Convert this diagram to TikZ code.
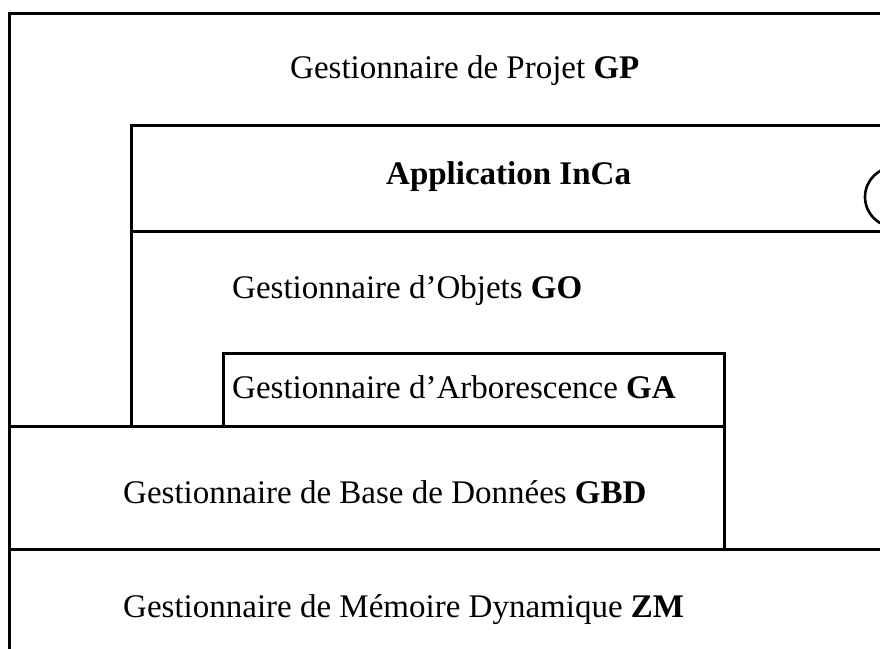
\documentclass[tikz,border=0pt]{standalone}
\usepackage{fontspec}
\setmainfont{Liberation Serif}
\begin{document}
\begin{tikzpicture}[x=1pt,y=-1pt,
  frame/.style={draw=black,line width=3pt,line cap=rect},
  label/.style={anchor=base west,inner sep=0pt,font=\fontsize{33}{39}\selectfont}]
\useasboundingbox (0,0) rectangle (880,648);
% outer GP frame
\draw[frame] (880,13) -- (9,13) -- (9,648);
% Application InCa band and GO frame
\draw[frame] (880,125) -- (131,125) -- (131,426);
\draw[frame] (131,231) -- (880,231);
% GA box
\draw[frame] (223,426) -- (223,353) -- (724,353) -- (724,549);
% GBD top and bottom
\draw[frame] (9,426) -- (724,426);
\draw[frame] (9,549) -- (880,549);
% partial circle at right edge
\begin{scope}
\clip (0,0) rectangle (880,648);
\draw[line width=2.6pt] (895,197) circle[radius=30];
\end{scope}
% labels
\node[label] (gp)  at (290,78)  {Gestionnaire de Projet \textbf{GP}};
\node[label] (inca) at (386,184) {\textbf{Application InCa}};
\node[label] (go)  at (232,298) {Gestionnaire d’Objets \textbf{GO}};
\node[label] (ga)  at (232,398) {Gestionnaire d’Arborescence \textbf{GA}};
\node[label] (gbd) at (123,503) {Gestionnaire de Base de Données \textbf{GBD}};
\node[label] (zm)  at (123,617) {Gestionnaire de Mémoire Dynamique \textbf{ZM}};
\end{tikzpicture}
\end{document}
